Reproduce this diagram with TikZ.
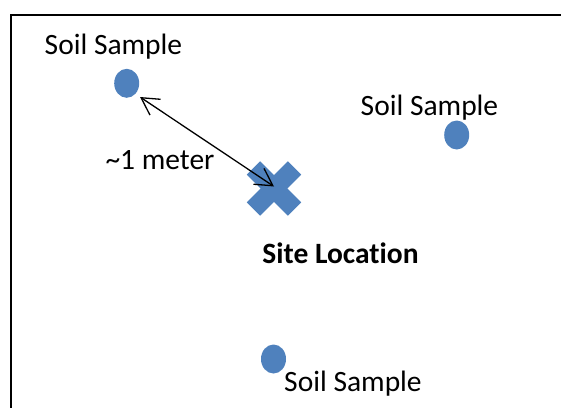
\documentclass[tikz,border=0pt]{standalone}
\usepackage{fontspec}
\setmainfont[Ligatures=NoCommon]{Carlito}
\usetikzlibrary{arrows.meta,calc,shapes.geometric}
\definecolor{markblue}{HTML}{4F81BD}
\tikzset{
  sample/.style={ellipse, fill=markblue, minimum width=25pt, minimum height=29pt, inner sep=0pt},
  label/.style={anchor=base, inner sep=0pt, font=\fontsize{29.5}{34}\selectfont},
  crossarm/.style={fill=markblue, draw=none},
  dist/.style={line width=1.3pt, {Straight Barb[length=17pt,width=19pt]}-{Straight Barb[length=17pt,width=19pt]}}
}
\begin{document}
\begin{tikzpicture}[x=1pt,y=-1pt]
\useasboundingbox (0,0) rectangle (561,407);
% frame: only its top and left edges fall inside the page
\draw[line width=2pt] (11,420) -- (11,15) -- (580,15);

% soil samples
\node[sample] (s1) at (126.7,83.3) {};
\node[sample] (s2) at (456.7,135) {};
\node[sample] (s3) at (273.5,359) {};
\node[label] (l1) at (113.5,54) {Soil Sample};
\node[label] (l2) at (429.5,115) {Soil Sample};
\node[label] (l3) at (353,391) {Soil Sample};

% site location cross
\coordinate (site) at (274,188.5);
\begin{scope}[shift={(site)}]
  \fill[crossarm, rotate=45] (-29,-9.5) rectangle (29,9.5);
  \fill[crossarm, rotate=-45] (-29,-9.5) rectangle (29,9.5);
\end{scope}
\node[label, font=\fontsize{29.5}{34}\selectfont\bfseries] (sl) at (340.5,263) {Site Location};

% distance marker
\coordinate (a1) at ($(s1.center)+(13.3,13.7)$);
\coordinate (a2) at ($(site)+(0,-2)$);
\draw[dist] (a1) -- (a2);
\node[label] (d) at (160,169) {\textasciitilde 1 meter};
\end{tikzpicture}
\end{document}
